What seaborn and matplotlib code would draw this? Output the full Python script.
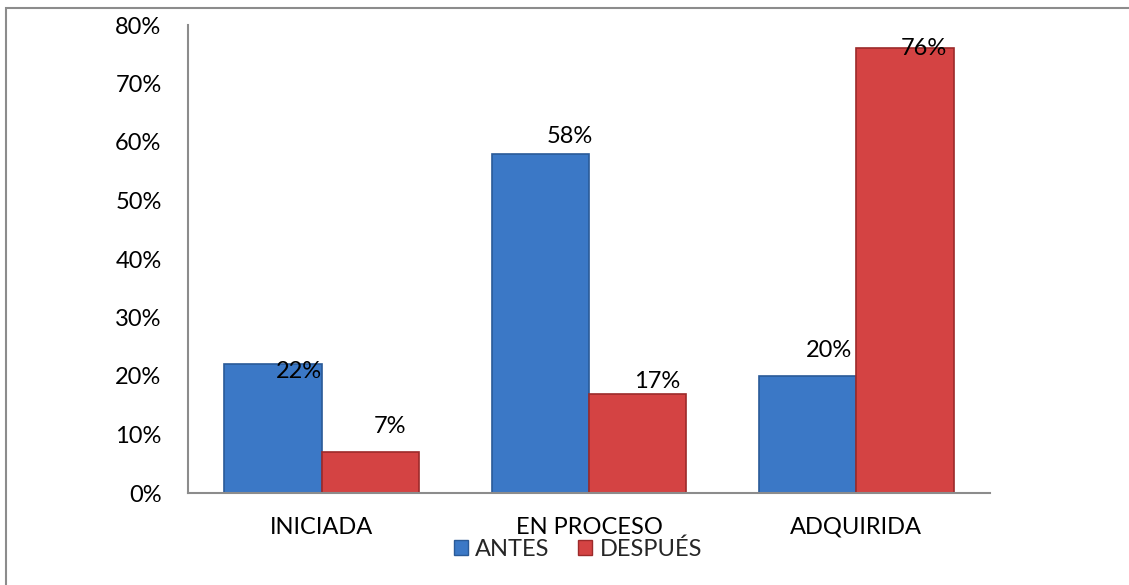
import matplotlib
matplotlib.use("Agg")
import matplotlib.pyplot as plt
import matplotlib.patches as mpatches
import seaborn as sns
import pandas as pd
from matplotlib.ticker import FuncFormatter, FixedLocator

categories = ["INICIADA", "EN PROCESO", "ADQUIRIDA"]
antes = [22, 58, 20]
despues = [7, 17, 76]
series_names = ["ANTES", "DESPUÉS"]
y_ticks = [0, 10, 20, 30, 40, 50, 60, 70, 80]

df = pd.DataFrame({
    "categoria": categories * 2,
    "serie": [series_names[0]] * 3 + [series_names[1]] * 3,
    "valor": antes + despues,
})

sns.set_theme(style="white")
plt.rcParams["font.family"] = ["Lato", "DejaVu Sans"]

colors = {"ANTES": "#3b78c6", "DESPUÉS": "#d44343"}
edge_colors = {"ANTES": "#2a5a98", "DESPUÉS": "#9c2a2a"}

fig = plt.figure(figsize=(11.29, 5.85), dpi=100)
ax = fig.add_axes([188 / 1129, 1 - 493 / 585, (990 - 188) / 1129, (493 - 25) / 585])

sns.barplot(data=df, x="categoria", y="valor", hue="serie", order=categories,
            hue_order=series_names, palette=colors, width=0.727, gap=0,
            ax=ax, legend=False, saturation=1)

# darker bevelled edges on each bar
for container, name in zip(ax.containers, series_names):
    for bar in container:
        bar.set_edgecolor(edge_colors[name])
        bar.set_linewidth(1.2)

# value labels, nudged (fraction of bar width, value units)
label_offsets = {
    "ANTES": [(0.27, -1.3), (0.3, 2.9), (0.22, 4.3)],
    "DESPUÉS": [(0.2, 4.3), (0.2, 2.1), (0.2, 0.0)],
}
for container, name, vals in zip(ax.containers, series_names, [antes, despues]):
    for bar, v, (dx, dy) in zip(container, vals, label_offsets[name]):
        cx = bar.get_x() + bar.get_width() / 2
        ax.text(cx + dx * bar.get_width(), v + dy, f"{v}%", ha="center", va="center",
                fontsize=17, color="black", zorder=5)

ax.set_ylim(0, 80)
ax.set_xlim(-0.5, 2.5)
ax.yaxis.set_major_locator(FixedLocator(y_ticks))
ax.yaxis.set_major_formatter(FuncFormatter(lambda v, p: f"{int(v)}%"))
ax.set_xlabel("")
ax.set_ylabel("")
ax.tick_params(axis="both", labelsize=17, colors="black", length=0)
ax.tick_params(axis="y", pad=19)
ax.tick_params(axis="x", pad=17)

for side in ["top", "right"]:
    ax.spines[side].set_visible(False)
for side in ["left", "bottom"]:
    ax.spines[side].set_color("#8c8c8c")
    ax.spines[side].set_linewidth(1.5)

handles = [mpatches.Patch(facecolor=colors[n], edgecolor=edge_colors[n], label=n)
           for n in series_names]
fig.legend(handles=handles, loc="center", bbox_to_anchor=(578 / 1129, 1 - 549 / 585),
           ncol=2, frameon=False, fontsize=17, handlelength=0.6, handleheight=0.6,
           handletextpad=0.3, columnspacing=1.2)

# chart area border
fig.add_artist(mpatches.Rectangle((6 / 1129, -0.1), 1.2, (585 - 8) / 585 + 0.1,
                                  transform=fig.transFigure, fill=False,
                                  edgecolor="#8c8c8c", lw=1.5))

fig.savefig("out.png", dpi=100)
